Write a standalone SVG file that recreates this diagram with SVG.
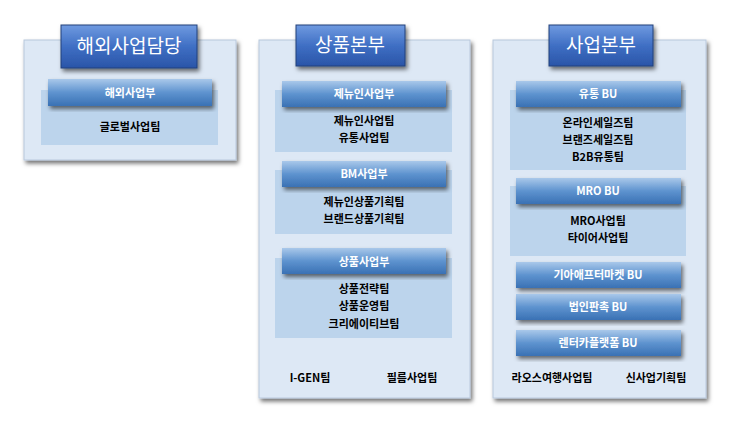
<svg xmlns="http://www.w3.org/2000/svg" width="748" height="427" viewBox="0 0 748 427">
<defs>
<linearGradient id="tg" x1="0" y1="0" x2="0" y2="1"><stop offset="0" stop-color="#6f9ae0"/><stop offset="0.5" stop-color="#3f6fc4"/><stop offset="1" stop-color="#2a55a8"/></linearGradient>
<linearGradient id="hg" x1="0" y1="0" x2="0" y2="1"><stop offset="0" stop-color="#a9c8ea"/><stop offset="0.5" stop-color="#5e93cf"/><stop offset="1" stop-color="#3a71b4"/></linearGradient>
<filter id="sh" x="-10%" y="-10%" width="125%" height="130%"><feDropShadow dx="2" dy="3" stdDeviation="2" flood-color="#000" flood-opacity="0.55"/></filter>
</defs>
<style>
.panel{fill:#dde8f5;stroke:#b8c8dc;stroke-width:1;filter:url(#sh)}
.title{fill:url(#tg);stroke:#23407a;stroke-width:1;filter:url(#sh)}
.hdr{fill:url(#hg);filter:url(#sh)}
.inner{fill:#bcd4ec}
.tt{font-family:"Noto Sans CJK KR",sans-serif;font-size:19px;fill:#fff;text-anchor:middle}
.ht{font-family:"Noto Sans CJK KR",sans-serif;font-size:11px;font-weight:bold;fill:#fff;text-anchor:middle}
.bt{font-family:"Noto Sans CJK KR",sans-serif;font-size:11px;font-weight:bold;fill:#000;text-anchor:middle}
</style>
<g id="panel-overseas">
<rect class="panel" x="24" y="40" width="212" height="120"/>
<rect class="title" x="61" y="25" width="136" height="43"/>
<text class="tt" x="129" y="53">해외사업담당</text>
<rect class="inner" x="41" y="90" width="177" height="55"/>
<rect class="hdr" x="48" y="79" width="164" height="27"/>
<text class="ht" x="130" y="97">해외사업부</text>
<text class="bt" x="130" y="131">글로벌사업팀</text>
</g>
<g id="panel-product">
<rect class="panel" x="259" y="40" width="211" height="358"/>
<rect class="title" x="296" y="25" width="109" height="41"/>
<text class="tt" x="350" y="52">상품본부</text>
<rect class="inner" x="275" y="90" width="177" height="62"/>
<rect class="hdr" x="282" y="81" width="164" height="26"/>
<text class="ht" x="364" y="98">제뉴인사업부</text>
<text class="bt" x="364" y="125">제뉴인사업팀</text>
<text class="bt" x="364" y="142">유통사업팀</text>
<rect class="inner" x="275" y="170" width="177" height="64"/>
<rect class="hdr" x="282" y="161" width="164" height="26"/>
<text class="ht" x="364" y="178">BM사업부</text>
<text class="bt" x="364" y="206">제뉴인상품기획팀</text>
<text class="bt" x="364" y="223">브랜드상품기획팀</text>
<rect class="inner" x="275" y="258" width="177" height="80"/>
<rect class="hdr" x="282" y="248" width="164" height="26"/>
<text class="ht" x="364" y="266">상품사업부</text>
<text class="bt" x="364" y="293">상품전략팀</text>
<text class="bt" x="364" y="310">상품운영팀</text>
<text class="bt" x="364" y="328">크리에이티브팀</text>
<text class="bt" x="310" y="382">I-GEN팀</text>
<text class="bt" x="412" y="382">필름사업팀</text>
</g>
<g id="panel-business">
<rect class="panel" x="493" y="40" width="213" height="358"/>
<rect class="title" x="549" y="25" width="104" height="41"/>
<text class="tt" x="601" y="52">사업본부</text>
<rect class="inner" x="510" y="90" width="176" height="80"/>
<rect class="hdr" x="516" y="81" width="165" height="26"/>
<text class="ht" x="598" y="98">유통 BU</text>
<text class="bt" x="598" y="127">온라인세일즈팀</text>
<text class="bt" x="598" y="144">브랜즈세일즈팀</text>
<text class="bt" x="598" y="161">B2B유통팀</text>
<rect class="inner" x="510" y="186" width="176" height="70"/>
<rect class="hdr" x="516" y="178" width="165" height="26"/>
<text class="ht" x="598" y="195">MRO BU</text>
<text class="bt" x="598" y="225">MRO사업팀</text>
<text class="bt" x="598" y="242">타이어사업팀</text>
<rect class="hdr" x="516" y="262" width="165" height="26"/>
<text class="ht" x="598" y="279">기아애프터마켓 BU</text>
<rect class="hdr" x="516" y="294" width="165" height="26"/>
<text class="ht" x="598" y="311">법인판촉 BU</text>
<rect class="hdr" x="516" y="330" width="165" height="26"/>
<text class="ht" x="598" y="347">렌터카플랫폼 BU</text>
<text class="bt" x="552" y="382">라오스여행사업팀</text>
<text class="bt" x="656" y="382">신사업기획팀</text>
</g>
<g id="connectors"/>
</svg>
